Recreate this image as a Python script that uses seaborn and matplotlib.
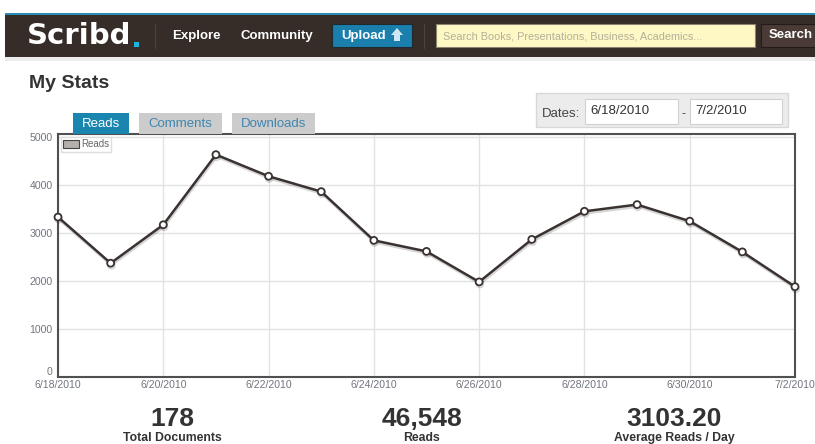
import pandas as pd
import matplotlib
matplotlib.use("Agg")
import matplotlib.pyplot as plt
import matplotlib.patheffects as pe
from matplotlib.patches import Rectangle, Patch, Polygon
import seaborn as sns

# Data
days = ["6/18/2010", "6/19/2010", "6/20/2010", "6/21/2010", "6/22/2010",
        "6/23/2010", "6/24/2010", "6/25/2010", "6/26/2010", "6/27/2010",
        "6/28/2010", "6/29/2010", "6/30/2010", "7/1/2010", "7/2/2010"]
reads = [3330, 2370, 3170, 4630, 4180, 3860, 2845, 2615, 1980, 2865,
         3450, 3590, 3245, 2605, 1880]
tick_days = ["6/18/2010", "6/20/2010", "6/22/2010", "6/24/2010",
             "6/26/2010", "6/28/2010", "6/30/2010", "7/2/2010"]
y_ticks = [0, 1000, 2000, 3000, 4000, 5000]
tabs = ["Reads", "Comments", "Downloads"]
stat_values = ["178", "46,548", "3103.20"]
stat_labels = ["Total Documents", "Reads", "Average Reads / Day"]

df = pd.DataFrame({"date": pd.to_datetime(days), "reads": reads})

sns.set_theme(style="whitegrid")
plt.rcParams["font.family"] = ["Liberation Sans", "DejaVu Sans"]

W, H = 815, 444
fig = plt.figure(figsize=(W / 100, H / 100), dpi=100)
fig.patch.set_facecolor("white")


def rect(x0, y0, x1, y1, **kw):
    fig.patches.append(Rectangle((x0 / W, 1 - y1 / H), (x1 - x0) / W, (y1 - y0) / H,
                                 transform=fig.transFigure, **kw))


def txt(x, y, s, **kw):
    fig.text(x / W, 1 - y / H, s, **kw)


# -----------------------------
# Header bar
# -----------------------------
rect(5, 13, W, 15, color="#2a8db3", lw=0)
rect(5, 15, W, 57, color="#362c28", lw=0)
rect(5, 57, W, 61, color="#ececec", lw=0)
txt(27, 36, "Scribd", color="white", fontsize=21, fontweight="bold",
    family=["DejaVu Sans"], va="center")
rect(134, 42, 139, 47, color="#1fb3e0", lw=0)
rect(155, 24, 156, 49, color="#4c423d", lw=0)
txt(172, 36, "Explore", color="white", fontsize=9.5, fontweight="bold", va="center")
txt(240, 36, "Community", color="white", fontsize=9.5, fontweight="bold", va="center")
rect(332, 24, 412, 47, facecolor="#1a7fac", edgecolor="#1d2a30", lw=0.8)
txt(341, 35.5, "Upload", color="white", fontsize=9.5, fontweight="bold", va="center")
fig.patches.append(Polygon([(391 / W, 1 - 35 / H), (397 / W, 1 - 28 / H), (403 / W, 1 - 35 / H),
                            (400 / W, 1 - 35 / H), (400 / W, 1 - 41 / H), (394 / W, 1 - 41 / H),
                            (394 / W, 1 - 35 / H)], closed=True, transform=fig.transFigure,
                           color="#cfe7f3", lw=0))
rect(424, 24, 425, 49, color="#4c423d", lw=0)
rect(436, 24, 755, 47, facecolor="#fdf8c4", edgecolor="#8a8470", lw=0.8)
txt(443, 36, "Search Books, Presentations, Business, Academics...", color="#b4b09a",
    fontsize=7.8, va="center")
rect(761, 24, 830, 47, facecolor="#4a3b36", edgecolor="#221b19", lw=0.8)
txt(769, 35.5, "Search", color="white", fontsize=9.5, fontweight="bold", va="center")

# -----------------------------
# Page title, dates box, tabs
# -----------------------------
txt(29, 83, "My Stats", color="#333333", fontsize=14, fontweight="bold", va="center")

rect(536, 93, 788, 127, facecolor="#ececec", edgecolor="#d8d8d8", lw=1)
txt(542, 114, "Dates:", color="#444444", fontsize=9.5, va="center")
rect(585, 99, 678, 124, facecolor="white", edgecolor="#d0d0d0", lw=0.8)
txt(590, 111, days[0], color="#333333", fontsize=9.5, va="center")
txt(682, 114, "-", color="#444444", fontsize=9, va="center")
rect(690, 99, 782, 124, facecolor="white", edgecolor="#d0d0d0", lw=0.8)
txt(695, 111, days[-1], color="#333333", fontsize=9.5, va="center")

tab_x = [(73, 129), (139, 222), (232, 315)]
for (x0, x1), name in zip(tab_x, tabs):
    active = name == "Reads"
    rect(x0, 113, x1, 134, color="#1a86b0" if active else "#cccccc", lw=0)
    txt((x0 + x1) / 2, 124, name, color="white" if active else "#3f86b0",
        fontsize=9.5, ha="center", va="center")

# -----------------------------
# Reads chart
# -----------------------------
ax = fig.add_axes([58 / W, 1 - 377 / H, (795 - 58) / W, (377 - 134) / H])
ax.set_facecolor("white")
sns.lineplot(data=df, x="date", y="reads", ax=ax, color="#3a3230", linewidth=1.8,
             marker="o", markersize=5, markerfacecolor="white",
             markeredgecolor="#3a3230", markeredgewidth=1.3, legend=False)
line = ax.get_lines()[0]
line.set_clip_on(False)
line.set_zorder(5)
line.set_path_effects([pe.SimpleLineShadow(offset=(0.5, -1.5), alpha=0.18), pe.Normal()])

ax.set_xlim(df["date"].iloc[0], df["date"].iloc[-1])
ax.set_ylim(0, 5060)
ax.set_xticks(pd.to_datetime(tick_days))
ax.set_xticklabels(tick_days)
ax.set_yticks(y_ticks)
ax.set_yticklabels([str(v) for v in y_ticks])
ax.get_yticklabels()[0].set_va("bottom")
ax.tick_params(axis="both", length=0, labelsize=7.6, labelcolor="#70757d")
ax.tick_params(axis="y", pad=4)
ax.tick_params(axis="x", pad=2.5)
ax.set_xlabel("")
ax.set_ylabel("")
ax.grid(True, color="#e2e2e2", linewidth=1)
for sp in ax.spines.values():
    sp.set_visible(True)
    sp.set_color("#505050")
    sp.set_linewidth(1.5)

ax.legend(handles=[Patch(facecolor="#b5b0ac", edgecolor="#444444", lw=0.8)],
          labels=["Reads"], loc="upper left", fontsize=7, frameon=True,
          fancybox=False, framealpha=1, edgecolor="#dddddd", borderpad=0.25,
          handlelength=1.6, handleheight=0.9, handletextpad=0.2,
          borderaxespad=0.3, labelcolor="#666666")

# -----------------------------
# Summary numbers
# -----------------------------
for cx, val, lab in zip([172, 422, 674], stat_values, stat_labels):
    txt(cx, 419, val, color="#333333", fontsize=19, fontweight="bold",
        ha="center", va="center")
    txt(cx, 438, lab, color="#333333", fontsize=8.8, fontweight="bold",
        ha="center", va="center")

fig.savefig("out.png", dpi=100, facecolor="white")
